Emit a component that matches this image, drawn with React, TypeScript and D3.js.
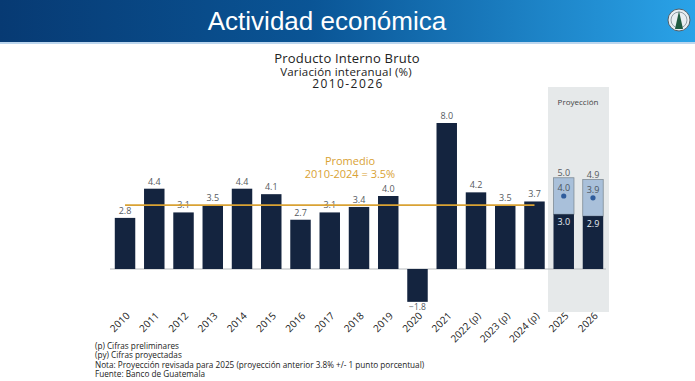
import React from "react";
import * as d3 from "d3";

const categories = ["2010","2011","2012","2013","2014","2015","2016","2017","2018","2019","2020","2021","2022 (p)","2023 (p)","2024 (p)","2025","2026"];
const values = [2.8, 4.4, 3.1, 3.5, 4.4, 4.1, 2.7, 3.1, 3.4, 4.0, -1.8, 8.0, 4.2, 3.5, 3.7];
const projLow = [3.0, 2.9];
const projMid = [4.0, 3.9];
const projHigh = [5.0, 4.9];
const projCats = ["2025", "2026"];
const average = 3.5;
const footnotes = [
  "(p) Cifras preliminares",
  "(py) Cifras proyectadas",
  "Nota: Proyección revisada para 2025 (proyección anterior 3.8% +/- 1 punto porcentual)",
  "Fuente: Banco de Guatemala",
];

const W = 695, H = 381;
const NAVY = "#14243f";
const GOLD = "#d9a234";
const LABEL = "#555a60";
const FONT = "'Open Sans', 'Noto Sans', sans-serif";

export default function App() {
  const x = d3.scaleBand<string>().domain(categories).range([110.4, 607.6]).paddingInner(0.3).paddingOuter(0.15);
  const y = d3.scaleLinear().domain([0, 8]).range([269, 123]);
  const bw = x.bandwidth();
  const cx = (c: string) => (x(c) as number) + bw / 2;
  const fmt = d3.format(".1f");

  return (
    <svg width={W} height={H} style={{ position: "absolute", left: 0, top: 0, display: "block" }}>
      <defs>
        <linearGradient id="hdr" x1="0" x2="1" y1="0" y2="0">
          <stop offset="0" stopColor="#073a73" />
          <stop offset="0.45" stopColor="#0a5596" />
          <stop offset="1" stopColor="#2aa3e8" />
        </linearGradient>
      </defs>
      <rect x={0} y={0} width={W} height={H} fill="#ffffff" />
      <rect x={0} y={0} width={W} height={42} fill="url(#hdr)" />
      <rect x={0} y={42} width={W} height={2} fill="#bcd6ee" />
      <text x={327} y={30} textAnchor="middle" fill="#fff" fontSize={26} fontFamily="'Liberation Sans', Arial, sans-serif">Actividad económica</text>
      <circle cx={679} cy={20} r={11} fill="#e8eef2" stroke="#52606a" strokeWidth={1} />
      <circle cx={679} cy={20} r={8} fill="none" stroke="#7a8890" strokeWidth={0.8} />
      <path d="M679,11 L683,29 L675,29 Z" fill="#1f5a40" />

      <text x={347} y={63} textAnchor="middle" fontSize={13} letterSpacing={0.2} fill="#222" fontFamily={FONT}>Producto Interno Bruto</text>
      <text x={346} y={75.5} textAnchor="middle" fontSize={11.5} letterSpacing={0.2} fill="#222" fontFamily={FONT}>Variación interanual (%)</text>
      <text x={348} y={88} textAnchor="middle" fontSize={12} letterSpacing={1.4} fill="#222" fontFamily={FONT}>2010-2026</text>

      <rect x={548} y={87} width={61} height={225} fill="#e6e9ea" />
      <text x={578} y={105} textAnchor="middle" fontSize={8} fill="#444" fontFamily={FONT}>Proyección</text>

      <line x1={110} x2={606} y1={y(0)} y2={y(0)} stroke="#b5b9bc" strokeWidth={1} />

      {values.map((v, i) => {
        const c = categories[i];
        const top = Math.min(y(v), y(0));
        const h = Math.abs(y(v) - y(0));
        return (
          <g key={c}>
            <rect x={x(c)} y={top} width={bw} height={h} fill={NAVY} />
            <text x={cx(c)} y={v >= 0 ? y(v) - 4 : y(v) + 8} textAnchor="middle" fontSize={v >= 0 ? 9 : 8.5} fill={LABEL} fontFamily={FONT}>{fmt(v)}</text>
          </g>
        );
      })}

      {projCats.map((c, i) => (
        <g key={c}>
          <rect x={x(c)} y={y(projHigh[i])} width={bw} height={y(projLow[i]) - y(projHigh[i])} fill="#a9c0da" stroke="#7f8c96" strokeWidth={0.8} />
          <rect x={x(c)} y={y(projLow[i])} width={bw} height={y(0) - y(projLow[i])} fill={NAVY} />
          <circle cx={cx(c)} cy={y(projMid[i])} r={2.6} fill="#2f5c9c" />
          <text x={cx(c)} y={y(projHigh[i]) - 2} textAnchor="middle" fontSize={9} fill={LABEL} fontFamily={FONT}>{fmt(projHigh[i])}</text>
          <text x={cx(c)} y={y(projMid[i]) - 5} textAnchor="middle" fontSize={9} fill="#4a5560" fontFamily={FONT}>{fmt(projMid[i])}</text>
          <text x={cx(c)} y={y(projLow[i]) + 11} textAnchor="middle" fontSize={9} fill="#e8eef4" fontFamily={FONT}>{fmt(projLow[i])}</text>
        </g>
      ))}

      <line x1={cx(categories[0])} x2={cx(categories[14])} y1={y(average)} y2={y(average)} stroke={GOLD} strokeWidth={1.8} />
      <text x={350} y={165} textAnchor="middle" fontSize={11} fill={GOLD} fontFamily={FONT}>Promedio</text>
      <text x={350} y={178} textAnchor="middle" fontSize={11} fill={GOLD} fontFamily={FONT}>2010-2024 = 3.5%</text>

      {categories.map((c) => (
        <text key={c} transform={`translate(${cx(c) + 3},${314}) rotate(-45)`} textAnchor="end" dy="0.35em" fontSize={10} fill="#222" fontFamily={FONT}>{c}</text>
      ))}

      {footnotes.map((f, i) => (
        <text key={i} x={95} y={349 + i * 9.3} fontSize={8.2} fill="#222" fontFamily={FONT}>{f}</text>
      ))}
    </svg>
  );
}
